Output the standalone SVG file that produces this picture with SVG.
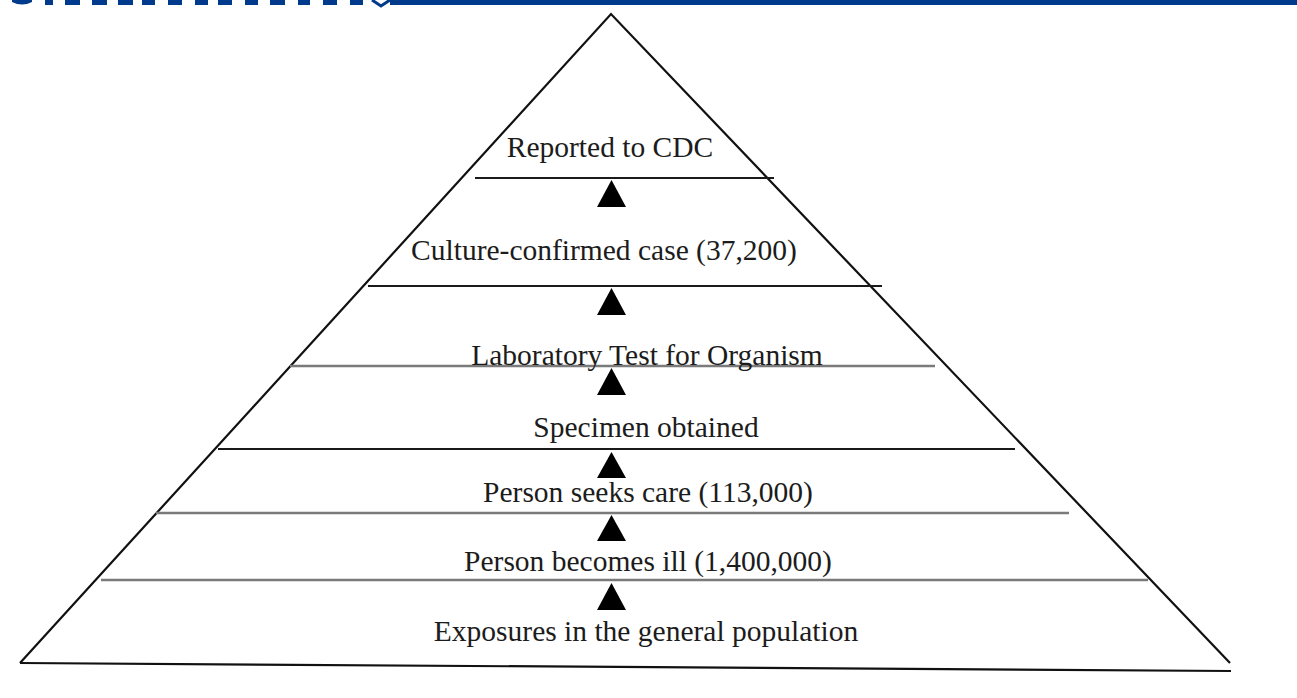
<svg xmlns="http://www.w3.org/2000/svg" width="1297" height="698" viewBox="0 0 1297 698">
<style>
.lbl{font-family:"Liberation Serif","Times New Roman",serif;font-size:29.5px;fill:#1c1c1c;text-anchor:middle}
.dk{stroke:#1a1a1a;stroke-width:2;fill:none}
.gy{stroke:#7a7a7a;stroke-width:2.5;fill:none}
.side{stroke:#111;stroke-width:2.2;fill:none}
.arr{fill:#000}
.bar{fill:#003a8c}
</style>
<rect width="1297" height="698" fill="#fff"/>
<g id="header">
<rect class="bar" x="390" y="0" width="907" height="5"/>
<path class="bar" d="M12 0H32V2Q22 7 12 2Z"/>
<rect class="bar" x="45" y="0" width="8" height="5"/>
<rect class="bar" x="65" y="0" width="15" height="5"/>
<rect class="bar" x="92" y="0" width="15" height="5"/>
<rect class="bar" x="118" y="0" width="15" height="5"/>
<rect class="bar" x="142" y="0" width="13" height="5"/>
<rect class="bar" x="168" y="0" width="14" height="5"/>
<rect class="bar" x="195" y="0" width="13" height="5"/>
<rect class="bar" x="218" y="0" width="14" height="5"/>
<rect class="bar" x="245" y="0" width="13" height="5"/>
<rect class="bar" x="270" y="0" width="15" height="5"/>
<rect class="bar" x="298" y="0" width="12" height="5"/>
<rect class="bar" x="323" y="0" width="14" height="5"/>
<rect class="bar" x="350" y="0" width="13" height="5"/>
<path d="M372 0L381 6L390 0" stroke="#003a8c" stroke-width="3" fill="none"/>
</g>
<g id="pyramid">
<path class="side" d="M20 663L611 14L1230 663"/>
<path class="side" d="M20 663L1231 671"/>
<line class="dk" x1="475" y1="178" x2="774" y2="178"/>
<line class="dk" x1="368" y1="286" x2="882" y2="286"/>
<line class="gy" x1="290" y1="366" x2="935" y2="366"/>
<line class="dk" x1="218" y1="449" x2="1015" y2="449"/>
<line class="gy" x1="156" y1="513" x2="1069" y2="513"/>
<line class="gy" x1="101" y1="580" x2="1148" y2="580"/>
</g>
<g id="connectors">
<polygon class="arr" points="611.5,180 626,207 597,207"/>
<polygon class="arr" points="611.5,288 626,315 597,315"/>
<polygon class="arr" points="611.5,368 626,395 597,395"/>
<polygon class="arr" points="611.5,452 626,478 597,478"/>
<polygon class="arr" points="611.5,515 626,541 597,541"/>
<polygon class="arr" points="611.5,583 626,610 597,610"/>
</g>
<g id="n-reported"><text class="lbl" x="610" y="157">Reported to CDC</text></g>
<g id="n-culture"><text class="lbl" x="604" y="260">Culture-confirmed case (37,200)</text></g>
<g id="n-lab"><text class="lbl" x="647" y="365">Laboratory Test for Organism</text></g>
<g id="n-specimen"><text class="lbl" x="646" y="437">Specimen obtained</text></g>
<g id="n-seeks"><text class="lbl" x="648" y="502">Person seeks care (113,000)</text></g>
<g id="n-ill"><text class="lbl" x="648" y="571">Person becomes ill (1,400,000)</text></g>
<g id="n-exposures"><text class="lbl" x="646" y="641">Exposures in the general population</text></g>
</svg>
